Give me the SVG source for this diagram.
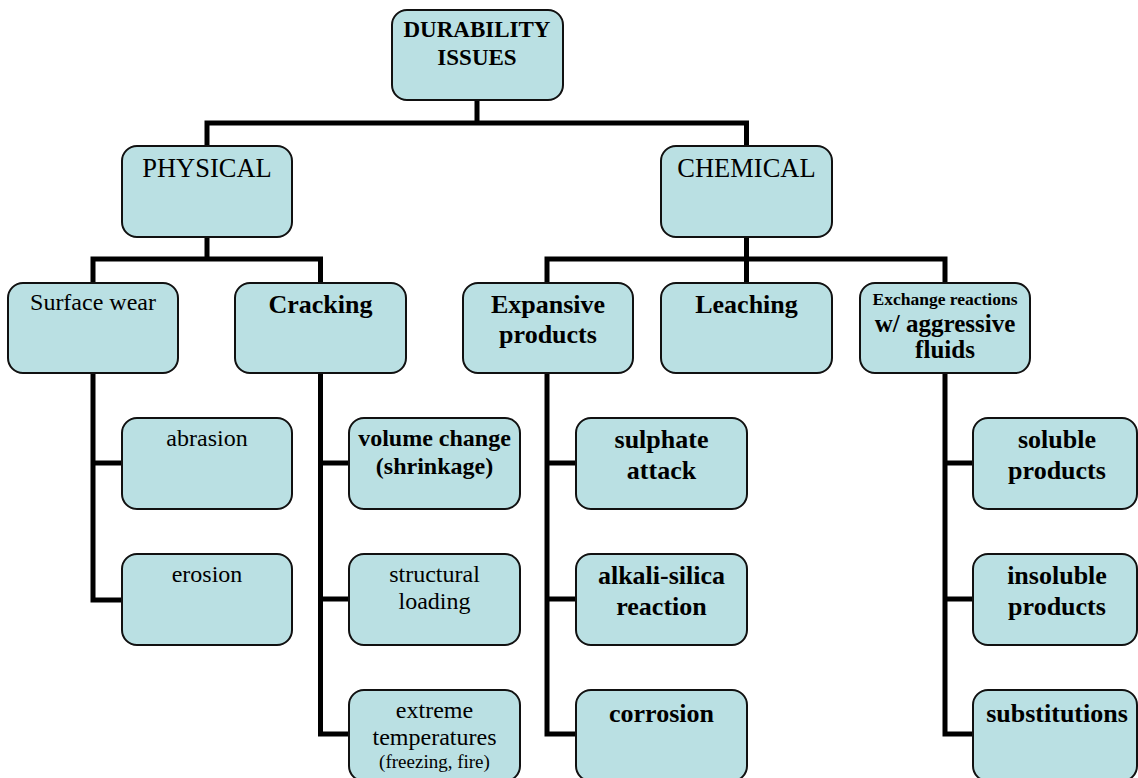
<svg xmlns="http://www.w3.org/2000/svg" width="1138" height="778" viewBox="0 0 1138 778">
<style>
.box{fill:#BAE0E3;stroke:#111;stroke-width:2}
.c{fill:none;stroke:#000;stroke-width:5;stroke-linecap:square;stroke-linejoin:miter}
text{font-family:"Liberation Serif","Tinos","Times New Roman","DejaVu Serif",serif;fill:#000;text-anchor:middle}
.r{font-size:24px}
.r26{font-size:26.5px}
.b{font-size:26px;font-weight:bold}
.b24{font-size:24px;font-weight:bold}
.s{font-size:19px}
</style>
<rect width="1138" height="778" fill="#fff"/>
<g id="connectors">
<path class="c" d="M477,100 V123 M207,123 H746.5 M207,123 V146 M746.5,123 V146"/>
<path class="c" d="M207,237 V259 M93,259 H320.5 M93,259 V283 M320.5,259 V283"/>
<path class="c" d="M746.5,237 V259 M547,259 H945 M547,259 V283 M746.5,259 V283 M945,259 V283"/>
<path class="c" d="M93,373 V600 H122 M93,463 H122"/>
<path class="c" d="M320.5,373 V734 H349 M320.5,463 H349 M320.5,599 H349"/>
<path class="c" d="M547,373 V734 H576 M547,463 H576 M547,599 H576"/>
<path class="c" d="M945,373 V734 H973 M945,463 H973 M945,599 H973"/>
</g>
<g font-family="Liberation Serif, Tinos, Times New Roman, DejaVu Serif, serif">
<g id="durability"><rect class="box" x="392" y="10" width="171" height="90" rx="15"/><text x="477" y="37" style="font-size:23px;font-weight:bold">DURABILITY</text><text x="477" y="65" style="font-size:23px;font-weight:bold">ISSUES</text></g>
<g id="physical"><rect class="box" x="122" y="146" width="170" height="91" rx="15"/><text class="r26" x="207" y="177">PHYSICAL</text></g>
<g id="chemical"><rect class="box" x="661" y="146" width="171" height="91" rx="15"/><text class="r26" x="746.5" y="177">CHEMICAL</text></g>
<g id="surface-wear"><rect class="box" x="8" y="283" width="170" height="90" rx="15"/><text class="r" x="93" y="310">Surface wear</text></g>
<g id="cracking"><rect class="box" x="235" y="283" width="171" height="90" rx="15"/><text class="b" x="320.5" y="313">Cracking</text></g>
<g id="expansive"><rect class="box" x="463" y="283" width="170" height="90" rx="15"/><text class="b" x="548" y="313">Expansive</text><text class="b" x="548" y="343">products</text></g>
<g id="leaching"><rect class="box" x="661" y="283" width="171" height="90" rx="15"/><text class="b" x="746.5" y="313">Leaching</text></g>
<g id="exchange"><rect class="box" x="860" y="283" width="170" height="90" rx="15"/><text x="945" y="305" style="font-size:17.5px;font-weight:bold">Exchange reactions</text><text x="945" y="332" style="font-size:25px;font-weight:bold">w/ aggressive</text><text x="945" y="358" style="font-size:25px;font-weight:bold">fluids</text></g>
<g id="abrasion"><rect class="box" x="122" y="418" width="170" height="91" rx="15"/><text class="r" x="207" y="446">abrasion</text></g>
<g id="erosion"><rect class="box" x="122" y="554" width="170" height="91" rx="15"/><text class="r" x="207" y="582">erosion</text></g>
<g id="volume-change"><rect class="box" x="349" y="418" width="171" height="91" rx="15"/><text class="b24" x="434.5" y="446">volume change</text><text class="b24" x="434.5" y="474">(shrinkage)</text></g>
<g id="structural-loading"><rect class="box" x="349" y="554" width="171" height="91" rx="15"/><text class="r" x="434.5" y="582">structural</text><text class="r" x="434.5" y="609">loading</text></g>
<g id="extreme-temperatures"><rect class="box" x="349" y="690" width="171" height="91" rx="15"/><text class="r" x="434.5" y="718">extreme</text><text class="r" x="434.5" y="745">temperatures</text><text class="s" x="434.5" y="768">(freezing, fire)</text></g>
<g id="sulphate"><rect class="box" x="576" y="418" width="171" height="91" rx="15"/><text class="b" x="661.5" y="448">sulphate</text><text class="b" x="661.5" y="479">attack</text></g>
<g id="alkali-silica"><rect class="box" x="576" y="554" width="171" height="91" rx="15"/><text class="b" x="661.5" y="584">alkali-silica</text><text class="b" x="661.5" y="615">reaction</text></g>
<g id="corrosion"><rect class="box" x="576" y="690" width="171" height="91" rx="15"/><text class="b" x="661.5" y="722">corrosion</text></g>
<g id="soluble"><rect class="box" x="973" y="418" width="164" height="91" rx="15"/><text class="b" x="1057" y="448">soluble</text><text class="b" x="1057" y="479">products</text></g>
<g id="insoluble"><rect class="box" x="973" y="554" width="164" height="91" rx="15"/><text class="b" x="1057" y="584">insoluble</text><text class="b" x="1057" y="615">products</text></g>
<g id="substitutions"><rect class="box" x="973" y="690" width="164" height="91" rx="15"/><text class="b" x="1057" y="722">substitutions</text></g>
</g>
</svg>
